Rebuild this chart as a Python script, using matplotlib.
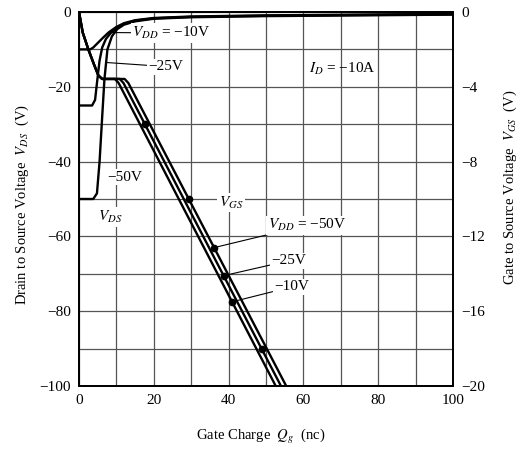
import numpy as np
import matplotlib
matplotlib.use('Agg')
import matplotlib.pyplot as plt

# ---------------- data ----------------
# Drain-source voltage curves (left axis, V) vs gate charge (nC)
q_vds_10 = [0, 3.0, 3.8, 5.0, 6.5, 8.0, 10, 12, 15, 20, 30, 50, 100]
vds_10 = [-10, -10, -9.5, -8.3, -6.8, -5.4, -4.0, -3.0, -2.2, -1.6, -1.2, -0.9, -0.5]

q_vds_25 = [0, 3.5, 4.3, 4.8, 5.5, 6.2, 7.2, 8.5, 10, 12, 15, 20, 30, 50, 100]
vds_25 = [-25, -25, -23.5, -19, -13, -9.5, -7.2, -5.6, -4.3, -3.2, -2.3, -1.7, -1.3, -1.0, -0.6]

q_vds_50 = [0, 3.8, 4.8, 5.5, 6.2, 6.8, 7.6, 8.8, 10.2, 12, 15, 20, 30, 50, 100]
vds_50 = [-50, -50, -48.5, -40, -28, -18, -10, -6.5, -4.6, -3.4, -2.5, -1.8, -1.4, -1.1, -0.7]

# Gate-source voltage curves (right axis, V)
vgs_pts = [0, -1.1, -2.0, -2.8, -3.4, -3.58, -3.58, -3.8, -20]
q_vgs_10 = [0, 1.0, 2.5, 4.0, 5.2, 6.2, 9.6, 10.6, 52.6]
q_vgs_25 = [0, 1.0, 2.5, 4.0, 5.2, 6.2, 10.9, 11.9, 54.0]
q_vgs_50 = [0, 1.0, 2.5, 4.0, 5.2, 6.2, 12.2, 13.2, 55.4]

x_ticks = [0, 20, 40, 60, 80, 100]
y_left_ticks = [0, -20, -40, -60, -80, -100]
y_right_ticks = [0, -4, -8, -12, -16, -20]

# ---------------- style ----------------
plt.rcParams['font.family'] = ['Liberation Serif', 'DejaVu Serif']
plt.rcParams['mathtext.fontset'] = 'stix'
plt.rcParams['axes.unicode_minus'] = True

fig = plt.figure(figsize=(5.21, 4.53), dpi=100)
ax = fig.add_axes([79 / 521, 1 - 386 / 453, 374 / 521, 374 / 453])
ax.set_xlim(0, 100)
ax.set_ylim(-100, 0)
ax.set_xticks(x_ticks)
ax.set_xticks([10, 30, 50, 70, 90], minor=True)
ax.set_yticks(y_left_ticks)
ax.set_yticks([-10, -30, -50, -70, -90], minor=True)
ax.grid(True, which='both', color='#555555', lw=0.9)
ax.set_axisbelow(True)
ax.tick_params(which='both', length=0, labelsize=11)
ax.tick_params(axis='y', pad=6)
ax.tick_params(axis='x', pad=6)
for s in ax.spines.values():
    s.set_linewidth(1.3)
    s.set_color('black')

ax2 = ax.twinx()
ax2.set_ylim(-20, 0)
ax2.set_yticks(y_right_ticks)
ax2.tick_params(which='both', length=0, labelsize=11, pad=6)
for s in ax2.spines.values():
    s.set_linewidth(1.3)

lw = 1.7
ax.plot(q_vds_10, vds_10, color='black', lw=lw)
ax.plot(q_vds_25, vds_25, color='black', lw=lw)
ax.plot(q_vds_50, vds_50, color='black', lw=lw)
ax2.plot(q_vgs_10, vgs_pts, color='black', lw=lw, solid_capstyle='round')
ax2.plot(q_vgs_25, vgs_pts, color='black', lw=lw, solid_capstyle='round')
ax2.plot(q_vgs_50, vgs_pts, color='black', lw=lw, solid_capstyle='round')


def q_at(qs, vs, level):
    """Gate charge where a curve reaches a given level (on its monotonic part)."""
    vs = np.asarray(vs, float)
    qs = np.asarray(qs, float)
    order = np.argsort(vs)
    return float(np.interp(level, vs[order], qs[order]))


def q_at_vgs(qs, level):
    return float(np.interp(-level, -np.asarray(vgs_pts[7:]), np.asarray(qs[7:])))


# dots on the VGS lines
for qs, lev in [(q_vgs_25, -6), (q_vgs_50, -10), (q_vgs_25, -18)]:
    ax2.plot(q_at_vgs(qs, lev), lev, 'o', color='black', ms=4.5)

tkw = dict(fontsize=11, color='black')
wb = dict(boxstyle='square,pad=0.1', fc='white', ec='none')
leader = dict(arrowstyle='-', color='black', lw=0.8, shrinkA=0, shrinkB=0)

# VDS labels
p = (q_at(q_vds_25[2:], vds_25[2:], -5.5), -5.5)
ax.annotate(r'$V_{DD}$ = −10V', xy=p, xytext=(14.3, -5.6), va='center', ha='left',
            arrowprops=leader, bbox=wb, **tkw)
p = (q_at(q_vds_50[2:], vds_50[2:], -13.5), -13.5)
ax.annotate('−25V', xy=p, xytext=(18.6, -14.6), va='center', ha='left',
            arrowprops=leader, bbox=wb, **tkw)
ax.text(7.6, -44.2, '−50V', va='center', ha='left', bbox=wb, **tkw)
ax.text(5.0, -54.8, r'$V_{DS}$', va='center', ha='left', bbox=wb, **tkw)
ax.text(70.3, -15.2, r'$I_D$ = −10A', va='center', ha='center', **tkw)
ax.text(40.6, -51.0, r'$V_{GS}$', va='center', ha='center', bbox=wb, **tkw)

# VGS labels
lev = -12.6
ax2.annotate(r'$V_{DD}$ = −50V', xy=(q_at_vgs(q_vgs_50, lev), lev), xytext=(50.5, -11.4),
             va='center', ha='left', arrowprops=leader, bbox=wb, **tkw)
ax2.plot(q_at_vgs(q_vgs_50, lev), lev, 'o', color='black', ms=4.5)
lev = -14.1
ax2.annotate('−25V', xy=(q_at_vgs(q_vgs_25, lev), lev), xytext=(51.5, -13.3),
             va='center', ha='left', arrowprops=leader, bbox=wb, **tkw)
ax2.plot(q_at_vgs(q_vgs_25, lev), lev, 'o', color='black', ms=4.5)
lev = -15.5
ax2.annotate('−10V', xy=(q_at_vgs(q_vgs_10, lev), lev), xytext=(52.2, -14.7),
             va='center', ha='left', arrowprops=leader, bbox=wb, **tkw)
ax2.plot(q_at_vgs(q_vgs_10, lev), lev, 'o', color='black', ms=4.5)

# axis titles
fig.text(0.5, 1 - 436 / 453, r'Gate Charge  $Q_g$  (nc)', ha='center', va='center', fontsize=10.5)
fig.text(22 / 521, 1 - 204 / 453, r'Drain to Source Voltage  $V_{DS}$  (V)', rotation=90,
         ha='center', va='center', fontsize=10.5)
fig.text(510 / 521, 1 - 187 / 453, r'Gate to Source Voltage  $V_{GS}$  (V)', rotation=90,
         ha='center', va='center', fontsize=10.5)

fig.savefig('out.png', dpi=100)
